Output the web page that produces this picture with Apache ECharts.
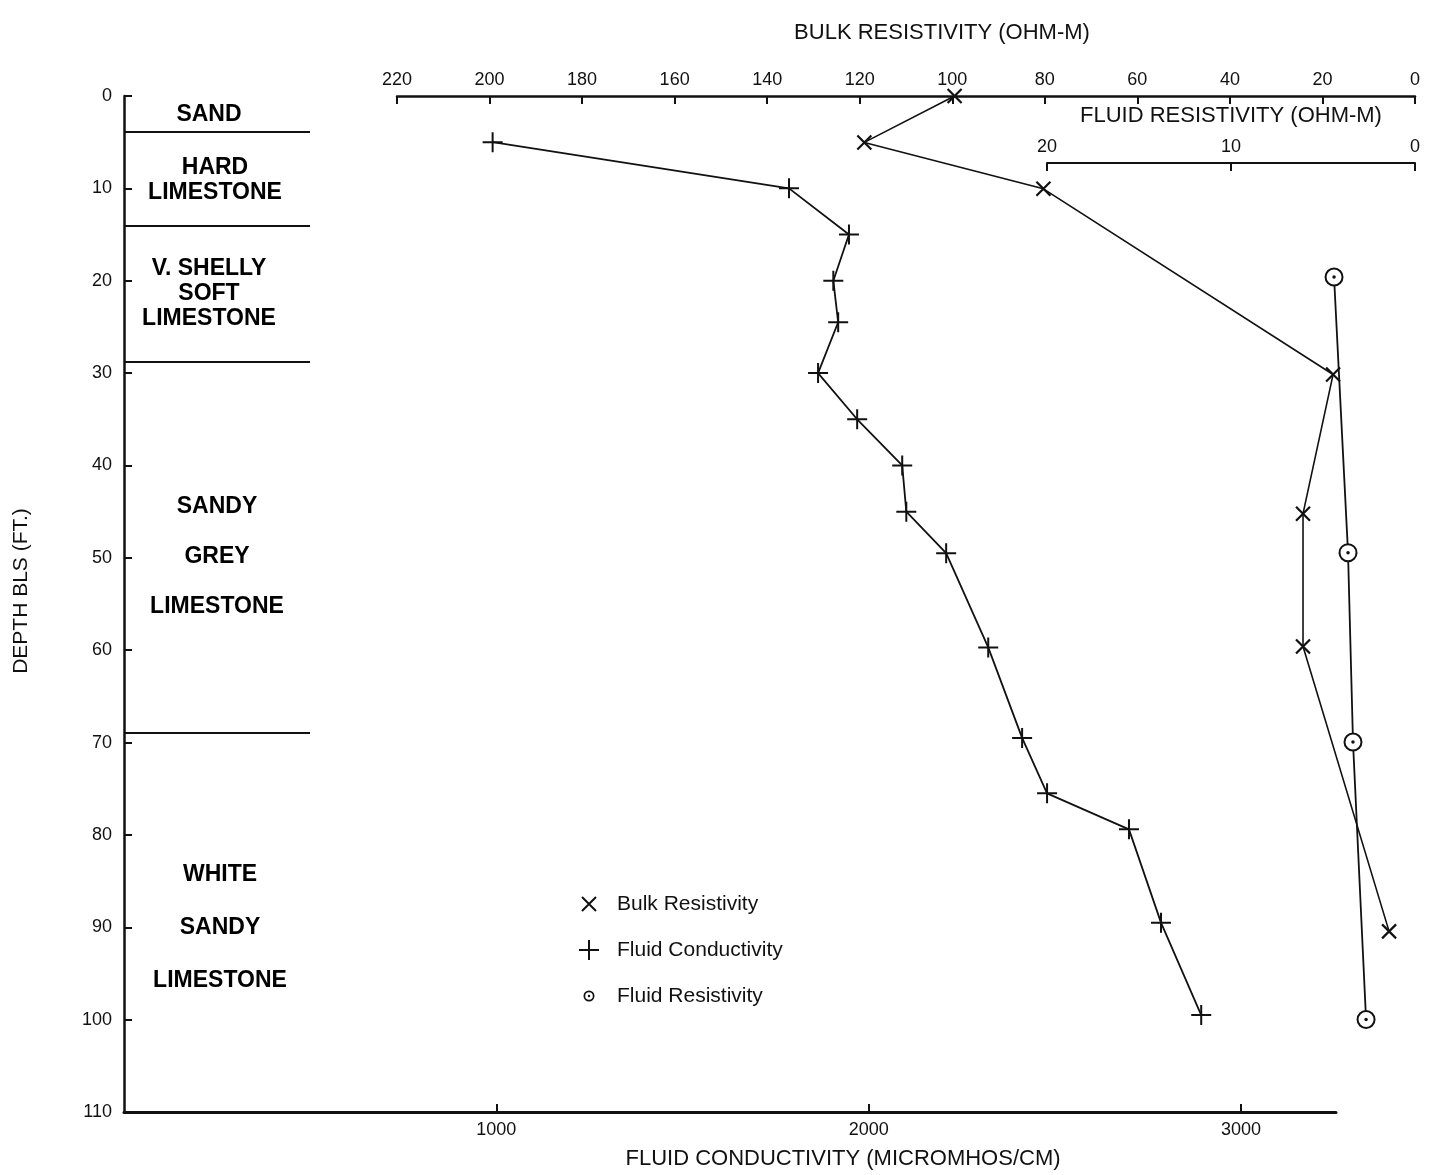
<!DOCTYPE html>
<html><head><meta charset="utf-8">
<script src="https://cdn.jsdelivr.net/npm/echarts@6/dist/echarts.min.js"></script>
<style>html,body{margin:0;padding:0;background:#fff}#c{width:1429px;height:1175px}</style>
</head><body><div id="c"></div>
<script>
// ---- data ----
const bulkDepth = [0, 5, 10, 30, 45, 59.3, 90];
const bulkResistivity = [99.5, 119, 80.3, 17.7, 24.2, 24.2, 5.6];
const condDepth = [5, 10, 15, 20, 24.5, 30, 35, 40, 45, 49.5, 59.7, 69.5, 75.5, 79.4, 89.5, 99.5];
const fluidConductivity = [990, 1786, 1947, 1905, 1918, 1864, 1969, 2090, 2101, 2208, 2321, 2412, 2479, 2699, 2785, 2893];
const fresDepth = [19.5, 49.2, 69.6, 99.5];
const fluidResistivity = [4.4, 3.64, 3.37, 2.66];
const lithNames = ['SAND', 'HARD\nLIMESTONE', 'V. SHELLY\nSOFT\nLIMESTONE', 'SANDY\nGREY\nLIMESTONE', 'WHITE\nSANDY\nLIMESTONE'];
const lithTop = [0, 3.9, 14.0, 28.6, 68.6];
const lithBottom = [3.9, 14.0, 28.6, 68.6, 110];
const condTickValues = [1000, 2000, 3000];
const seriesNames = ['Bulk Resistivity', 'Fluid Conductivity', 'Fluid Resistivity'];

// ---- styles ----
const INK = '#111';
const FONT = 'Liberation Sans';
const lithLineHeight = [24, 25, 25, 50, 53];
const lithLabelShift = [1, 2, 0, 10, 3];
const lithLabelDx = [-8, -2, -8, 0, 3];
const depthMin = 0, depthMax = 110;
const gTop = 96, gBottom = 58;

const zip = (xs, ys) => xs.map((x, i) => [x, ys[i]]);
const hiddenY = (gi) => ({type: 'value', gridIndex: gi, min: depthMin, max: depthMax, inverse: true, show: false});
const tickLabel = {color: INK, fontFamily: FONT, fontSize: 18, formatter: v => String(v)};
const nameStyle = {color: INK, fontFamily: FONT, fontSize: 22};

const option = {
  animation: false,
  backgroundColor: '#fff',
  grid: [
    {left: 124, right: 93, top: gTop, bottom: gBottom},   // main: conductivity + depth
    {left: 397, right: 14, top: gTop, bottom: gBottom},   // bulk resistivity
    {left: 1047, right: 14, top: gTop, bottom: gBottom},  // fluid resistivity
    {left: 124, width: 186, top: gTop, bottom: gBottom}   // lithology column
  ],
  xAxis: [
    {type: 'value', gridIndex: 0, position: 'bottom', min: 0, max: 3255,
     name: 'FLUID CONDUCTIVITY (MICROMHOS/CM)', nameLocation: 'middle', nameGap: 36,
     nameTextStyle: Object.assign({}, nameStyle, {padding: [0, 0, 0, 226]}),
     axisLine: {onZero: false, lineStyle: {color: INK, width: 3}},
     axisTick: {inside: true, length: 8, lineStyle: {color: INK, width: 2}, customValues: condTickValues},
     axisLabel: Object.assign({margin: 9, customValues: condTickValues}, tickLabel),
     splitLine: {show: false}},
    {type: 'value', gridIndex: 1, position: 'top', min: 0, max: 220, interval: 20, inverse: true,
     name: 'BULK RESISTIVITY (OHM-M)', nameLocation: 'middle', nameGap: 52,
     nameTextStyle: Object.assign({}, nameStyle, {padding: [0, 0, 0, 72]}),
     axisLine: {onZero: false, lineStyle: {color: INK, width: 2.5}},
     axisTick: {inside: true, length: 8, lineStyle: {color: INK, width: 2}},
     axisLabel: Object.assign({margin: 7}, tickLabel),
     splitLine: {show: false}},
    {type: 'value', gridIndex: 2, position: 'top', offset: -67, min: 0, max: 20, interval: 10, inverse: true,
     name: 'FLUID RESISTIVITY (OHM-M)', nameLocation: 'middle', nameGap: 36,
     nameTextStyle: nameStyle,
     axisLine: {onZero: false, lineStyle: {color: INK, width: 2}},
     axisTick: {inside: true, length: 8, lineStyle: {color: INK, width: 2}},
     axisLabel: Object.assign({margin: 7}, tickLabel),
     splitLine: {show: false}},
    {type: 'value', gridIndex: 3, min: 0, max: 1, show: false}
  ],
  yAxis: [
    {type: 'value', gridIndex: 0, min: depthMin, max: depthMax, interval: 10, inverse: true,
     name: 'DEPTH BLS (FT.)', nameLocation: 'middle', nameGap: 92, nameRotate: 90,
     nameTextStyle: Object.assign({}, nameStyle, {fontSize: 21, padding: [0, 0, 0, 26]}),
     axisLine: {onZero: false, lineStyle: {color: INK, width: 2.5}},
     axisTick: {inside: true, length: 8, lineStyle: {color: INK, width: 2}},
     axisLabel: Object.assign({margin: 12}, tickLabel),
     splitLine: {show: false}},
    hiddenY(1), hiddenY(2), hiddenY(3)
  ],
  legend: {
    orient: 'vertical', left: 573, top: 888, itemWidth: 20, itemHeight: 20, itemGap: 24,
    textStyle: {color: INK, fontFamily: FONT, fontSize: 21, lineHeight: 22, padding: [0, 0, 0, 13]},
    data: [
      {name: seriesNames[0], icon: 'path://M0,0M20,20M3,3L17,17M17,3L3,17',
       itemStyle: {color: INK, borderColor: INK, borderWidth: 2}},
      {name: seriesNames[1], icon: 'path://M10,0L10,20M0,10L20,10',
       itemStyle: {color: INK, borderColor: INK, borderWidth: 2}},
      {name: seriesNames[2], icon: 'path://M0,0M20,20M10,4.5A5.5,5.5,0,1,1,9.99,4.5ZM10,6.2A3.8,3.8,0,1,0,10.01,6.2ZM10,8.8A1.2,1.2,0,1,1,9.99,8.8Z',
       itemStyle: {color: INK, borderWidth: 0}}
    ]
  },
  series: [
    {name: seriesNames[0], type: 'line', xAxisIndex: 1, yAxisIndex: 1,
     data: zip(bulkResistivity, bulkDepth),
     symbol: 'path://M0,0L10,10M10,0L0,10', symbolSize: 14,
     itemStyle: {color: INK, borderColor: INK, borderWidth: 2.2},
     lineStyle: {color: INK, width: 1.6}, z: 3},
    {name: seriesNames[1], type: 'line', xAxisIndex: 0, yAxisIndex: 0,
     data: zip(fluidConductivity, condDepth),
     symbol: 'path://M10,0L10,20M0,10L20,10', symbolSize: 20,
     itemStyle: {color: INK, borderColor: INK, borderWidth: 2},
     lineStyle: {color: INK, width: 1.8}, z: 3},
    {name: seriesNames[2], type: 'line', xAxisIndex: 2, yAxisIndex: 2,
     data: zip(fluidResistivity, fresDepth),
     symbol: 'circle', symbolSize: 17,
     itemStyle: {color: '#fff', borderColor: INK, borderWidth: 2},
     lineStyle: {color: INK, width: 1.8}, z: 3},
    {name: 'Fluid Resistivity dot', type: 'scatter', xAxisIndex: 2, yAxisIndex: 2,
     data: zip(fluidResistivity, fresDepth), symbol: 'circle', symbolSize: 3.5,
     itemStyle: {color: INK, opacity: 1}, z: 5, silent: true},
    {name: 'Lithology', type: 'scatter', xAxisIndex: 3, yAxisIndex: 3, silent: true,
     symbol: 'circle', symbolSize: 1, itemStyle: {color: 'rgba(255,255,255,0)', opacity: 1},
     data: lithNames.map((n, i) => ({name: n, value: [0.5, (lithTop[i] + lithBottom[i]) / 2],
       label: {lineHeight: lithLineHeight[i], offset: [lithLabelDx[i], lithLabelShift[i]]}})),
     label: {show: true, position: 'top', distance: 0, verticalAlign: 'middle', align: 'center',
       formatter: p => p.name, color: '#000', opacity: 1, textBorderWidth: 0,
       fontFamily: FONT, fontWeight: 'bold', fontSize: 23},
     markLine: {silent: true, symbol: 'none', label: {show: false},
       lineStyle: {color: INK, width: 2, type: 'solid', opacity: 1},
       data: lithTop.slice(1).map(d => ({yAxis: d}))}}
  ]
};
echarts.init(document.getElementById('c'), null, {renderer: 'canvas'}).setOption(option);
</script></body></html>
